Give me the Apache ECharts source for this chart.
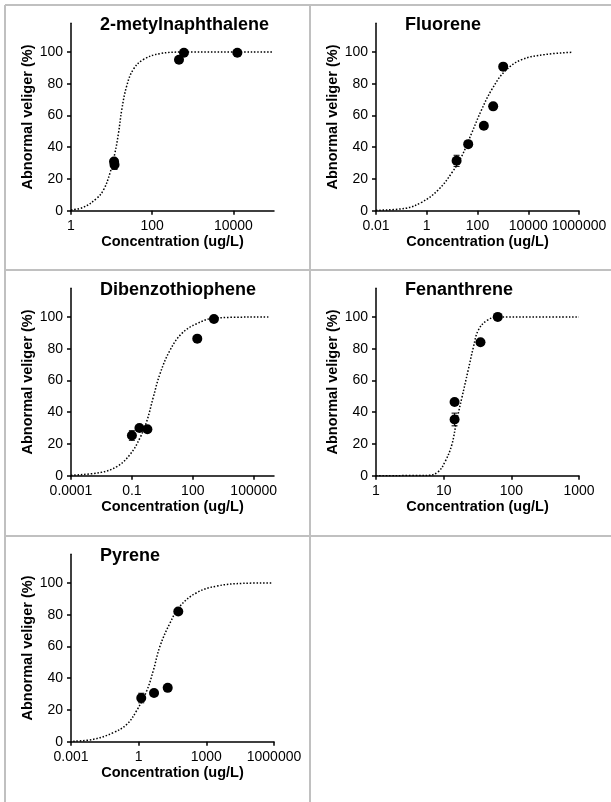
<!DOCTYPE html>
<html>
<head>
    <meta charset="utf-8">
    <title>Abnormal veliger vs concentration</title>
    <script src="https://cdn.jsdelivr.net/npm/echarts@6/dist/echarts.min.js"></script>
    <style>
        body, html { margin: 0; padding: 0; background: #fff; }
        #main { width: 611px; height: 802px; }
    </style>
</head>
<body>
    <div id="main"></div>
    <script>
        // panel titles and axis ticks
        const titles = ['2-metylnaphthalene', 'Fluorene', 'Dibenzothiophene', 'Fenanthrene', 'Pyrene'];
        const xMin = [1, 0.01, 0.0001, 1, 0.001];
        const xMax = [100000, 1000000, 1000000, 1000, 1000000];
        const xTickLabels = [
            ['1', '100', '10000'],
            ['0.01', '1', '100', '10000', '1000000'],
            ['0.0001', '0.1', '100', '100000'],
            ['1', '10', '100', '1000'],
            ['0.001', '1', '1000', '1000000']
        ];
        const yTicks = [0, 20, 40, 60, 80, 100];
        const yMax = 118;

        // measured points: concentration (ug/L), abnormal veliger (%), error
        const methylConc = [11.5, 11.8, 457, 605, 12500];
        const methylResp = [31, 29, 95, 99.5, 99.5];
        const methylErr = [1.5, 3, 0.5, 0.5, 0.5];
        const fluoConc = [15, 43, 178, 415, 1030];
        const fluoResp = [31.4, 41.9, 53.5, 65.7, 90.7];
        const fluoErr = [3.5, 1, 1, 1, 1];
        const dbtConc = [0.1, 0.235, 0.58, 166, 1100];
        const dbtResp = [25.3, 30, 29.3, 86.3, 98.7];
        const dbtErr = [3, 1, 1, 1, 0.5];
        const fenConc = [14.5, 14.5, 35, 63];
        const fenResp = [46.4, 35.4, 84, 100];
        const fenErr = [1, 4, 1, 0.5];
        const pyrConc = [1.3, 4.8, 19.4, 57];
        const pyrResp = [27.5, 30.7, 33.9, 82];
        const pyrErr = [3, 1, 1, 1];

        // fitted curves
        const methylCurveX = [1, 2, 4.3, 6.3, 9.1, 12, 14.8, 17.8, 23.4, 33.9, 60, 155, 575, 93000];
        const methylCurveY = [0.5, 2.1, 7.8, 13, 23.6, 36, 48.9, 63.6, 78.3, 88.8, 95.1, 98.9, 99.9, 100];
        const fluoCurveX = [0.01, 0.14, 0.63, 2.8, 9.5, 23.4, 59, 145, 363, 1200, 5500, 44700, 500000];
        const fluoCurveY = [0.3, 1.5, 5.3, 13, 23.6, 34, 48.9, 63.6, 76.2, 87.8, 95.1, 98.3, 99.7];
        const dbtCurveX = [0.0001, 0.0027, 0.018, 0.081, 0.25, 0.54, 1.12, 2.4, 7.4, 28, 155, 1480, 630000];
        const dbtCurveY = [0.3, 2, 5.7, 13.3, 23.8, 34.3, 49.2, 64, 78.8, 89.4, 95.7, 99.4, 100];
        const fenCurveX = [1, 5.9, 8.3, 10.5, 13.2, 15.5, 18.6, 22.9, 27.5, 32.4, 43.7, 65, 1000];
        const fenCurveY = [0, 0.2, 2.5, 8.9, 19.5, 34.3, 49.2, 66, 80.9, 91.5, 97.8, 100, 100];
        const pyrCurveX = [0.00126, 0.0098, 0.076, 0.3, 0.81, 2.3, 4.5, 8.7, 24.5, 68, 370, 2900, 43600, 794000];
        const pyrCurveY = [0.3, 1.5, 5.7, 11, 19.5, 32.2, 45, 59.9, 74.7, 85.3, 93.8, 98, 99.7, 100];

        const panels = [
            [methylConc, methylResp, methylErr, methylCurveX, methylCurveY],
            [fluoConc, fluoResp, fluoErr, fluoCurveX, fluoCurveY],
            [dbtConc, dbtResp, dbtErr, dbtCurveX, dbtCurveY],
            [fenConc, fenResp, fenErr, fenCurveX, fenCurveY],
            [pyrConc, pyrResp, pyrErr, pyrCurveX, pyrCurveY]
        ];

        const font = 'Liberation Sans, Arial, sans-serif';
        const cellX = [5, 310];
        const cellY = [5, 270, 536];
        const lg = Math.log10;

        const grids = [], xAxes = [], yAxes = [], series = [], titleList = [];

        panels.forEach(function (p, i) {
            const cx = cellX[i % 2], cy = cellY[Math.floor(i / 2)];
            grids.push({ left: cx + 66, top: cy + 18.3, width: 203, height: 187.4 });
            titleList.push({
                text: titles[i], left: cx + 95, top: cy + 11, padding: 0,
                textStyle: { fontFamily: font, fontSize: 18, fontWeight: 'bold', color: '#000' }
            });
            const ticks = xTickLabels[i].map(function (t) { return lg(parseFloat(t)); });
            xAxes.push({
                gridIndex: i, type: 'value',
                min: lg(xMin[i]), max: lg(xMax[i]),
                name: 'Concentration (ug/L)', nameLocation: 'middle', nameGap: 24,
                nameTextStyle: { fontFamily: font, fontSize: 14.5, fontWeight: 'bold', color: '#000' },
                axisLine: { onZero: false, lineStyle: { color: '#000', width: 1.5 } },
                axisTick: { show: true, length: 4, customValues: ticks, lineStyle: { color: '#000', width: 1.5 } },
                axisLabel: {
                    customValues: ticks, margin: 8,
                    fontFamily: font, fontSize: 14, color: '#000',
                    formatter: function (v) {
                        const k = ticks.findIndex(function (t) { return Math.abs(t - v) < 1e-6; });
                        return k < 0 ? '' : xTickLabels[i][k];
                    }
                },
                splitLine: { show: false }
            });
            yAxes.push({
                gridIndex: i, type: 'value', min: 0, max: yMax,
                name: 'Abnormal veliger (%)', nameLocation: 'middle', nameGap: 27,
                nameTextStyle: { fontFamily: font, fontSize: 14.5, fontWeight: 'bold', color: '#000' },
                axisLine: { show: true, onZero: false, lineStyle: { color: '#000', width: 1.5 } },
                axisTick: { show: true, length: 4, customValues: yTicks, lineStyle: { color: '#000', width: 1.5 } },
                axisLabel: { customValues: yTicks, margin: 8, fontFamily: font, fontSize: 14, color: '#000' },
                splitLine: { show: false }
            });
            series.push({
                type: 'line', xAxisIndex: i, yAxisIndex: i,
                data: p[3].map(function (c, k) { return [lg(c), p[4][k]]; }),
                smooth: 0.4, showSymbol: false, silent: true,
                lineStyle: { color: '#000', width: 1.5, type: [1.5, 1.8] },
                z: 2
            });
            series.push({
                type: 'custom', xAxisIndex: i, yAxisIndex: i,
                data: p[0].map(function (c, k) { return [lg(c), p[1][k], p[2][k]]; }),
                renderItem: function (params, api) {
                    const x = api.value(0), y = api.value(1), e = api.value(2);
                    const hi = api.coord([x, y + e]), lo = api.coord([x, y - e]);
                    const st = { stroke: '#000', lineWidth: 1 };
                    return {
                        type: 'group', children: [
                            { type: 'line', shape: { x1: hi[0], y1: hi[1], x2: lo[0], y2: lo[1] }, style: st },
                            { type: 'line', shape: { x1: hi[0] - 3, y1: hi[1], x2: hi[0] + 3, y2: hi[1] }, style: st },
                            { type: 'line', shape: { x1: lo[0] - 3, y1: lo[1], x2: lo[0] + 3, y2: lo[1] }, style: st }
                        ]
                    };
                },
                z: 3
            });
            series.push({
                type: 'scatter', xAxisIndex: i, yAxisIndex: i,
                data: p[0].map(function (c, k) { return [lg(c), p[1][k]]; }),
                symbolSize: 10, itemStyle: { color: '#000', opacity: 1 },
                z: 4
            });
        });

        // table cell borders
        const borderStyle = { stroke: '#c0c0c0', lineWidth: 2 };
        const borders = [
            [5, 5, 611, 5], [5, 270, 611, 270], [5, 536, 611, 536],
            [5, 5, 5, 802], [310, 5, 310, 802]
        ].map(function (b) {
            return { type: 'line', shape: { x1: b[0], y1: b[1], x2: b[2], y2: b[3] }, style: borderStyle, silent: true };
        });

        const chart = echarts.init(document.getElementById('main'));
        chart.setOption({
            backgroundColor: '#fff',
            animation: false,
            title: titleList,
            grid: grids,
            xAxis: xAxes,
            yAxis: yAxes,
            series: series,
            graphic: borders
        });
    </script>
</body>
</html>
